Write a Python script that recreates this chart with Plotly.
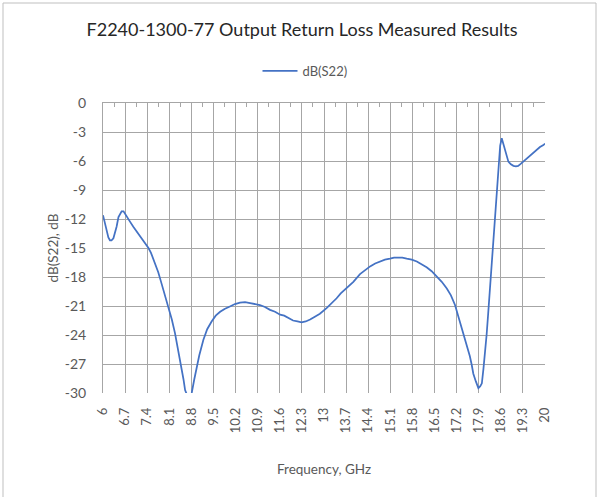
import plotly.graph_objects as go

# Data
freq_ghz = [6.00, 6.06, 6.12, 6.17, 6.22, 6.27, 6.33, 6.38, 6.43, 6.49, 6.54, 6.59, 6.65, 6.70,
            6.78, 6.86, 6.96, 7.07, 7.17, 7.28, 7.36, 7.44, 7.52, 7.59, 7.67, 7.75, 7.83, 7.91,
            7.99, 8.07, 8.18, 8.28, 8.38, 8.49, 8.55, 8.60, 8.66, 8.71, 8.76, 8.81, 8.89, 8.97,
            9.05, 9.18, 9.30, 9.44, 9.57, 9.71, 9.85, 10.02, 10.18, 10.34, 10.50, 10.66, 10.82,
            10.97, 11.13, 11.29, 11.45, 11.61, 11.74, 11.86, 12.02, 12.16, 12.29, 12.42, 12.56,
            12.71, 12.87, 13.09, 13.25, 13.40, 13.53, 13.67, 13.80, 13.93, 14.14, 14.30, 14.46,
            14.62, 14.77, 14.93, 15.09, 15.22, 15.35, 15.48, 15.62, 15.78, 15.94, 16.10, 16.25,
            16.41, 16.57, 16.73, 16.89, 17.02, 17.15, 17.23, 17.31, 17.39, 17.47, 17.55, 17.62,
            17.68, 17.73, 17.81, 17.89, 17.95, 18.00, 18.05, 18.10, 18.15, 18.20, 18.24, 18.28,
            18.35, 18.42, 18.47, 18.52, 18.58, 18.63, 18.68, 18.73, 18.78, 18.84, 18.92, 19.00,
            19.08, 19.15, 19.23, 19.31, 19.42, 19.53, 19.63, 19.74, 19.84, 19.95, 20.00]
s22_db = [-11.6, -12.5, -13.3, -13.9, -14.2, -14.2, -14.0, -13.5, -12.8, -11.8, -11.4, -11.2,
          -11.2, -11.5, -11.9, -12.3, -12.8, -13.3, -13.8, -14.2, -14.6, -15.0, -15.5, -16.1,
          -16.8, -17.5, -18.4, -19.3, -20.2, -21.0, -22.4, -23.8, -25.5, -27.3, -28.6, -29.7,
          -30.3, -30.6, -30.4, -30.0, -28.6, -27.3, -26.1, -24.5, -23.4, -22.6, -22.0, -21.6,
          -21.3, -21.05, -20.8, -20.65, -20.6, -20.7, -20.8, -20.9, -21.1, -21.4, -21.6, -21.9,
          -22.0, -22.2, -22.5, -22.6, -22.7, -22.6, -22.4, -22.1, -21.8, -21.2, -20.7, -20.2,
          -19.7, -19.3, -18.9, -18.5, -17.7, -17.3, -16.9, -16.6, -16.4, -16.2, -16.1, -16.0,
          -16.0, -16.0, -16.1, -16.2, -16.4, -16.7, -17.0, -17.4, -17.9, -18.5, -19.2, -19.9,
          -20.9, -21.8, -22.8, -23.6, -24.5, -25.3, -26.2, -27.1, -28.0, -28.8, -29.5, -29.3,
          -29.0, -27.5, -25.9, -24.0, -21.8, -20.0, -18.3, -15.2, -12.1, -9.5, -6.9, -4.4,
          -3.65, -4.2, -4.9, -5.5, -6.07, -6.35, -6.5, -6.55, -6.5, -6.3, -6.07, -5.75, -5.4,
          -5.1, -4.8, -4.55, -4.35, -4.2]

x_tick_vals = [6.0, 6.7, 7.4, 8.1, 8.8, 9.5, 10.2, 10.9, 11.6, 12.3, 13.0, 13.7, 14.4,
               15.1, 15.8, 16.5, 17.2, 17.9, 18.6, 19.3, 20.0]
x_tick_text = ["6", "6.7", "7.4", "8.1", "8.8", "9.5", "10.2", "10.9", "11.6", "12.3", "13",
               "13.7", "14.4", "15.1", "15.8", "16.5", "17.2", "17.9", "18.6", "19.3", "20"]
x_minor_vals = [6.35, 7.05, 7.75, 8.45, 9.15, 9.85, 10.55, 11.25, 11.95, 12.65, 13.35,
                14.05, 14.75, 15.45, 16.15, 16.85, 17.55, 18.25, 18.95, 19.65]
y_tick_vals = [0, -3, -6, -9, -12, -15, -18, -21, -24, -27, -30]
y_tick_text = ["0", "-3", "-6", "-9", "-12", "-15", "-18", "-21", "-24", "-27", "-30"]

FONT = "Lato"
TXT = "#595959"
GRID = "#A6A6A6"

fig = go.Figure()
fig.add_trace(go.Scatter(x=freq_ghz, y=s22_db, mode="lines", name="dB(S22)",
                         line=dict(color="#4472C4", width=1.75)))
# invisible helper trace so the top axis (with its tick marks) is drawn
fig.add_trace(go.Scatter(x=[6, 20], y=[0, 0], xaxis="x2", mode="lines",
                         line=dict(color="rgba(0,0,0,0)"), showlegend=False, hoverinfo="skip"))

W, H = 600, 497
L, R, T, B = 103, 55, 103, 104
pw, ph = W - L - R, H - T - B

fig.update_layout(
    width=W, height=H,
    margin=dict(l=L, r=R, t=T, b=B, autoexpand=False),
    paper_bgcolor="white", plot_bgcolor="white",
    font=dict(family=FONT, color=TXT),
    title=dict(text="F2240-1300-77 Output Return Loss Measured Results",
               x=302 / W, xref="container", xanchor="center", y=1 - 30 / H, yanchor="middle",
               font=dict(size=18, color="#262626", family=FONT)),
    showlegend=True,
    legend=dict(orientation="h", x=(305 - L) / pw, xanchor="center",
                y=(H - B - 71) / ph, yanchor="middle",
                font=dict(size=13, color=TXT), itemwidth=35),
    xaxis=dict(range=[6, 20], tickmode="array", tickvals=x_tick_vals, ticktext=x_tick_text,
               tickangle=-90, showgrid=True, gridcolor=GRID, gridwidth=1,
               showline=False, zeroline=False, ticks="", ticklabelstandoff=11,
               tickfont=dict(size=13, color=TXT),
               title=dict(text="Frequency, GHz", font=dict(size=13.5, color=TXT), standoff=32)),
    xaxis2=dict(range=[6, 20], overlaying="x", side="top", showticklabels=False,
                showgrid=False, zeroline=False, showline=True, linecolor=GRID, linewidth=1,
                ticks="inside", tickmode="array", tickvals=x_tick_vals, ticklen=5,
                tickcolor=GRID,
                minor=dict(tickmode="array", tickvals=x_minor_vals, ticks="inside",
                           ticklen=4, tickcolor=GRID)),
    yaxis=dict(range=[-30, 0], tickmode="array", tickvals=y_tick_vals, ticktext=y_tick_text,
               showgrid=True, gridcolor=GRID, gridwidth=1, zeroline=False,
               showline=True, linecolor=GRID, linewidth=1, ticks="",
               ticklabelstandoff=13, tickfont=dict(size=14, color=TXT),
               title=dict(text="dB(S22), dB", font=dict(size=13.5, color=TXT), standoff=3)),
)

# chart-area border
fig.add_shape(type="rect", xref="paper", yref="paper",
              x0=(3 - L) / pw, x1=(596 - L) / pw,
              y0=(H - B - 500) / ph, y1=(H - B - 3) / ph,
              line=dict(color="#BFBFBF", width=1), fillcolor="rgba(0,0,0,0)", layer="below")

fig.write_html("out.html", config={"displayModeBar": False},
               post_script="document.body.style.margin='0px';")
